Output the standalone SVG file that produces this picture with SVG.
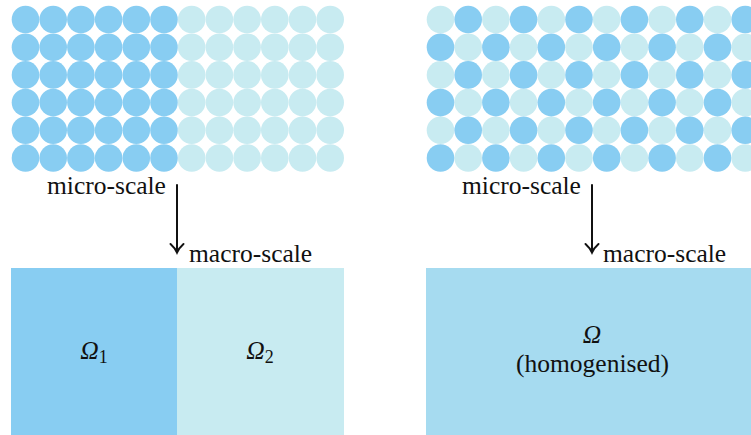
<svg xmlns="http://www.w3.org/2000/svg" width="751" height="435" viewBox="0 0 751 435">
<style>
.d{fill:#88CDF2}.l{fill:#C8EBF1}.h{fill:#A6DBF0}
text{font-family:"Liberation Serif","Times New Roman",serif;font-size:25.5px;fill:#111}
.ar{stroke:#111;stroke-width:2;fill:none;stroke-linecap:round}
</style>
<defs>
<circle id="c" r="13.8"/>
</defs>
<g id="left-micro">
<g class="d">
<use href="#c" x="25.5" y="19.5"/><use href="#c" x="53.2" y="19.5"/><use href="#c" x="80.9" y="19.5"/><use href="#c" x="108.6" y="19.5"/><use href="#c" x="136.3" y="19.5"/><use href="#c" x="164" y="19.5"/>
<use href="#c" x="25.5" y="47.2"/><use href="#c" x="53.2" y="47.2"/><use href="#c" x="80.9" y="47.2"/><use href="#c" x="108.6" y="47.2"/><use href="#c" x="136.3" y="47.2"/><use href="#c" x="164" y="47.2"/>
<use href="#c" x="25.5" y="74.9"/><use href="#c" x="53.2" y="74.9"/><use href="#c" x="80.9" y="74.9"/><use href="#c" x="108.6" y="74.9"/><use href="#c" x="136.3" y="74.9"/><use href="#c" x="164" y="74.9"/>
<use href="#c" x="25.5" y="102.6"/><use href="#c" x="53.2" y="102.6"/><use href="#c" x="80.9" y="102.6"/><use href="#c" x="108.6" y="102.6"/><use href="#c" x="136.3" y="102.6"/><use href="#c" x="164" y="102.6"/>
<use href="#c" x="25.5" y="130.3"/><use href="#c" x="53.2" y="130.3"/><use href="#c" x="80.9" y="130.3"/><use href="#c" x="108.6" y="130.3"/><use href="#c" x="136.3" y="130.3"/><use href="#c" x="164" y="130.3"/>
<use href="#c" x="25.5" y="158"/><use href="#c" x="53.2" y="158"/><use href="#c" x="80.9" y="158"/><use href="#c" x="108.6" y="158"/><use href="#c" x="136.3" y="158"/><use href="#c" x="164" y="158"/>
</g>
<g class="l">
<use href="#c" x="191.7" y="19.5"/><use href="#c" x="219.4" y="19.5"/><use href="#c" x="247.1" y="19.5"/><use href="#c" x="274.8" y="19.5"/><use href="#c" x="302.5" y="19.5"/><use href="#c" x="330.2" y="19.5"/>
<use href="#c" x="191.7" y="47.2"/><use href="#c" x="219.4" y="47.2"/><use href="#c" x="247.1" y="47.2"/><use href="#c" x="274.8" y="47.2"/><use href="#c" x="302.5" y="47.2"/><use href="#c" x="330.2" y="47.2"/>
<use href="#c" x="191.7" y="74.9"/><use href="#c" x="219.4" y="74.9"/><use href="#c" x="247.1" y="74.9"/><use href="#c" x="274.8" y="74.9"/><use href="#c" x="302.5" y="74.9"/><use href="#c" x="330.2" y="74.9"/>
<use href="#c" x="191.7" y="102.6"/><use href="#c" x="219.4" y="102.6"/><use href="#c" x="247.1" y="102.6"/><use href="#c" x="274.8" y="102.6"/><use href="#c" x="302.5" y="102.6"/><use href="#c" x="330.2" y="102.6"/>
<use href="#c" x="191.7" y="130.3"/><use href="#c" x="219.4" y="130.3"/><use href="#c" x="247.1" y="130.3"/><use href="#c" x="274.8" y="130.3"/><use href="#c" x="302.5" y="130.3"/><use href="#c" x="330.2" y="130.3"/>
<use href="#c" x="191.7" y="158"/><use href="#c" x="219.4" y="158"/><use href="#c" x="247.1" y="158"/><use href="#c" x="274.8" y="158"/><use href="#c" x="302.5" y="158"/><use href="#c" x="330.2" y="158"/>
</g>
<text x="47" y="194">micro-scale</text>
</g>
<g id="right-micro">
<g class="l">
<use href="#c" x="440.5" y="19.5"/><use href="#c" x="495.9" y="19.5"/><use href="#c" x="551.3" y="19.5"/><use href="#c" x="606.7" y="19.5"/><use href="#c" x="662.1" y="19.5"/><use href="#c" x="717.5" y="19.5"/>
<use href="#c" x="468.2" y="47.2"/><use href="#c" x="523.6" y="47.2"/><use href="#c" x="579" y="47.2"/><use href="#c" x="634.4" y="47.2"/><use href="#c" x="689.8" y="47.2"/><use href="#c" x="745.2" y="47.2"/>
<use href="#c" x="440.5" y="74.9"/><use href="#c" x="495.9" y="74.9"/><use href="#c" x="551.3" y="74.9"/><use href="#c" x="606.7" y="74.9"/><use href="#c" x="662.1" y="74.9"/><use href="#c" x="717.5" y="74.9"/>
<use href="#c" x="468.2" y="102.6"/><use href="#c" x="523.6" y="102.6"/><use href="#c" x="579" y="102.6"/><use href="#c" x="634.4" y="102.6"/><use href="#c" x="689.8" y="102.6"/><use href="#c" x="745.2" y="102.6"/>
<use href="#c" x="440.5" y="130.3"/><use href="#c" x="495.9" y="130.3"/><use href="#c" x="551.3" y="130.3"/><use href="#c" x="606.7" y="130.3"/><use href="#c" x="662.1" y="130.3"/><use href="#c" x="717.5" y="130.3"/>
<use href="#c" x="468.2" y="158"/><use href="#c" x="523.6" y="158"/><use href="#c" x="579" y="158"/><use href="#c" x="634.4" y="158"/><use href="#c" x="689.8" y="158"/><use href="#c" x="745.2" y="158"/>
</g>
<g class="d">
<use href="#c" x="468.2" y="19.5"/><use href="#c" x="523.6" y="19.5"/><use href="#c" x="579" y="19.5"/><use href="#c" x="634.4" y="19.5"/><use href="#c" x="689.8" y="19.5"/><use href="#c" x="745.2" y="19.5"/>
<use href="#c" x="440.5" y="47.2"/><use href="#c" x="495.9" y="47.2"/><use href="#c" x="551.3" y="47.2"/><use href="#c" x="606.7" y="47.2"/><use href="#c" x="662.1" y="47.2"/><use href="#c" x="717.5" y="47.2"/>
<use href="#c" x="468.2" y="74.9"/><use href="#c" x="523.6" y="74.9"/><use href="#c" x="579" y="74.9"/><use href="#c" x="634.4" y="74.9"/><use href="#c" x="689.8" y="74.9"/><use href="#c" x="745.2" y="74.9"/>
<use href="#c" x="440.5" y="102.6"/><use href="#c" x="495.9" y="102.6"/><use href="#c" x="551.3" y="102.6"/><use href="#c" x="606.7" y="102.6"/><use href="#c" x="662.1" y="102.6"/><use href="#c" x="717.5" y="102.6"/>
<use href="#c" x="468.2" y="130.3"/><use href="#c" x="523.6" y="130.3"/><use href="#c" x="579" y="130.3"/><use href="#c" x="634.4" y="130.3"/><use href="#c" x="689.8" y="130.3"/><use href="#c" x="745.2" y="130.3"/>
<use href="#c" x="440.5" y="158"/><use href="#c" x="495.9" y="158"/><use href="#c" x="551.3" y="158"/><use href="#c" x="606.7" y="158"/><use href="#c" x="662.1" y="158"/><use href="#c" x="717.5" y="158"/>
</g>
<text x="462" y="194">micro-scale</text>
</g>
<g id="left-macro">
<rect class="d" x="11" y="268" width="166" height="167"/>
<rect class="l" x="177" y="268" width="167" height="167"/>
<text x="94" y="359" text-anchor="middle"><tspan font-style="italic">Ω</tspan><tspan font-size="18" dy="4">1</tspan></text>
<text x="260" y="359" text-anchor="middle"><tspan font-style="italic">Ω</tspan><tspan font-size="18" dy="4">2</tspan></text>
<text x="189" y="262">macro-scale</text>
</g>
<g id="right-macro">
<rect class="h" x="426" y="268" width="325" height="167"/>
<text x="592" y="343" text-anchor="middle" font-style="italic">Ω</text>
<text x="592.5" y="372" text-anchor="middle">(homogenised)</text>
<text x="603" y="262">macro-scale</text>
</g>
<g id="connectors">
<path class="ar" d="M177 185V252.5M170.5 244Q175 248 177 252.5Q179 248 183.5 244"/>
<path class="ar" d="M592 185V252.5M585.5 244Q590 248 592 252.5Q594 248 598.5 244"/>
</g>
</svg>
